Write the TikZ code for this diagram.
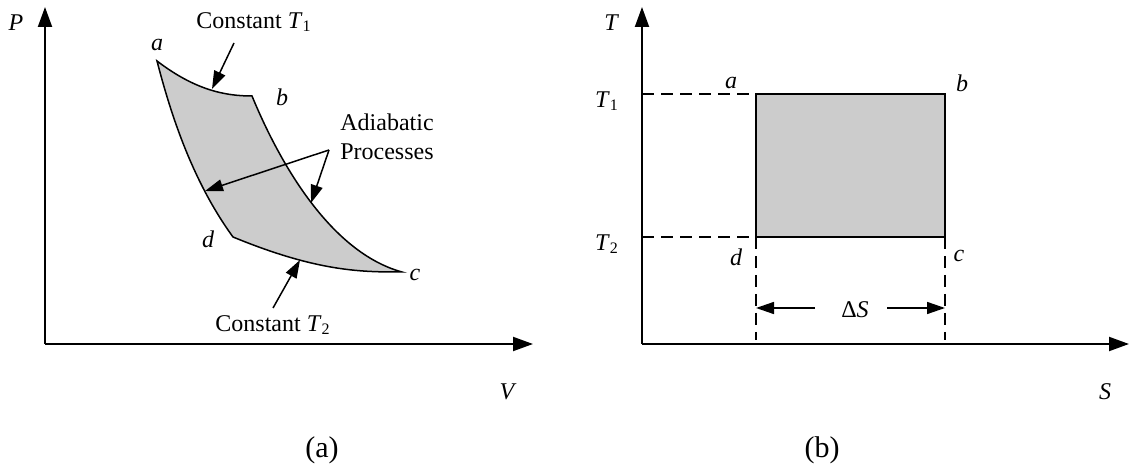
\documentclass[tikz,border=0pt]{standalone}
\usepackage{fontspec}
\setmainfont{Liberation Serif}
\usepackage{tikz}
\usetikzlibrary{arrows.meta,positioning}
\definecolor{cyclegray}{gray}{0.8}
\newcommand{\figsize}{\fontsize{12}{14.5}\selectfont}
\tikzset{
	axis/.style={line width=1pt, -{Triangle[length=10pt,width=7pt]}},
	pointer/.style={line width=0.75pt, -{Triangle[length=9pt,width=6pt]}},
	cyclearea/.style={line width=0.75pt, fill=cyclegray, line join=miter},
	guide/.style={line width=0.75pt, dash pattern=on 6pt off 3.5pt},
	txt/.style={inner sep=0pt, font=\figsize},
	lbl/.style={inner sep=0pt, font=\figsize\itshape},
	caption/.style={inner sep=0pt, font=\fontsize{15}{17}\selectfont}
}

\begin{document}
\begin{tikzpicture}[x=0.5pt, y=-0.5pt]
				\useasboundingbox (0,0) rectangle (1130,475);
				\coordinate (o1) at (45,344);
				\coordinate (ptip) at (45,7);
				\coordinate (vtip) at (533,344);
				\draw[axis] (o1) -- (ptip);
				\draw[axis] (o1) -- (vtip);
				\node[lbl] (P) at (16,23) {P};
				\node[lbl] (V) at (507,392) {V};
				\coordinate (pa) at (157,61);
				\coordinate (pb) at (252,96);
				\coordinate (pc) at (402,272);
				\coordinate (pd) at (233,237);
				\draw[cyclearea] (pa) .. controls (195,90) and (225,96) .. (pb)
					.. controls (271,142) and (322,250) .. (pc)
					.. controls (362,272) and (318,272) .. (pd)
					.. controls (190,178) and (169,107) .. cycle;
				\node[lbl] (la) at (157,45) {a};
				\node[lbl] (lb) at (282,97) {b};
				\node[lbl] (lc) at (415,275) {c};
				\node[lbl] (ld) at (208,239) {d};
				\node[txt] (T1) at (254,22) {Constant \textit{T}\textsubscript{1}};
				\node[txt, align=center] (adia) at (387,137) {Adiabatic\\Processes};
				\node[txt] (T2) at (273,325) {Constant \textit{T}\textsubscript{2}};
				\coordinate (t1s) at (234,43);
				\coordinate (t1e) at (212,89);
				\coordinate (fork) at (329,150);
				\coordinate (ad1) at (205,191);
				\coordinate (ad2) at (311,203);
				\coordinate (t2s) at (273,308);
				\coordinate (t2e) at (300,260);
				\draw[pointer] (t1s) -- (t1e);
				\draw[pointer] (fork) -- (ad1);
				\draw[pointer] (fork) -- (ad2);
				\draw[pointer] (t2s) -- (t2e);
				\node[caption] (capa) at (322,450) {(a)};
				\coordinate (o2) at (642,344);
				\coordinate (ttip) at (642,7);
				\coordinate (stip) at (1129,344);
				\draw[axis] (o2) -- (ttip);
				\draw[axis] (o2) -- (stip);
				\node[lbl] (T) at (611,23) {T};
				\node[lbl] (S) at (1105,392) {S};
				\coordinate (ra) at (756,94);
				\coordinate (rb) at (945,94);
				\coordinate (rc) at (945,237);
				\coordinate (rd) at (756,237);
				\draw[cyclearea] (ra) -- (rb) -- (rc) -- (rd) -- cycle;
				\coordinate (y1) at (642,94);
				\coordinate (y2) at (642,237);
				\coordinate (x1) at (756,340);
				\coordinate (x2) at (945,340);
				\draw[guide] (y1) -- (ra);
				\draw[guide] (y2) -- (rd);
				\draw[guide] (rd) -- (x1);
				\draw[guide] (rc) -- (x2);
				\node[txt] (tt1) at (607,101) {\textit{T}\textsubscript{1}};
				\node[txt] (tt2) at (607,244) {\textit{T}\textsubscript{2}};
				\node[lbl] (ra-l) at (731,83) {a};
				\node[lbl] (rb-l) at (962,83) {b};
				\node[lbl] (rc-l) at (959,256) {c};
				\node[lbl] (rd-l) at (736,257) {d};
				\node[txt] (dS) at (855,310) {Δ\textit{S}};
				\coordinate (dsl) at (815,308);
				\coordinate (dsr) at (887,308);
				\coordinate (dsa) at (756,308);
				\coordinate (dsb) at (945,308);
				\draw[pointer] (dsl) -- (dsa);
				\draw[pointer] (dsr) -- (dsb);
				\node[caption] (capb) at (822,450) {(b)};
			\end{tikzpicture}
\end{document}
